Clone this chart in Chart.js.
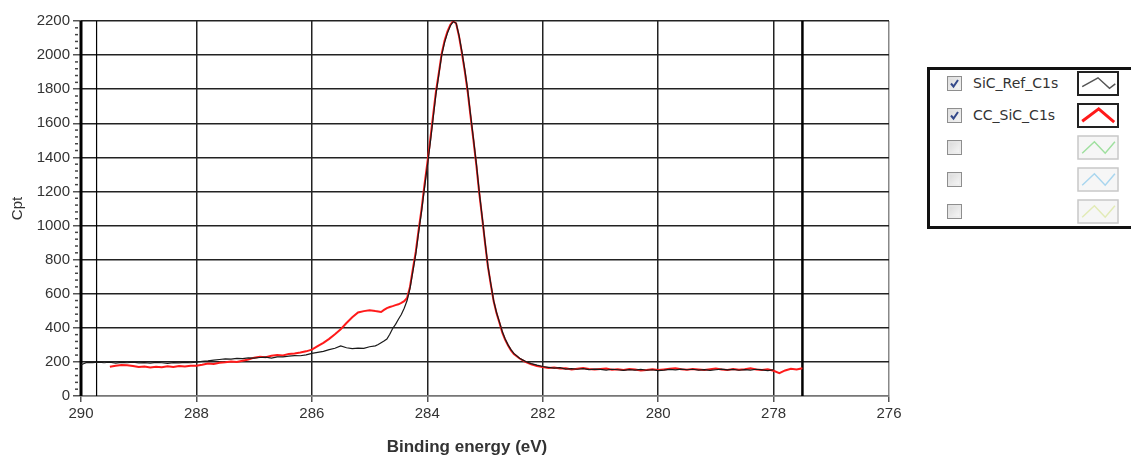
<!DOCTYPE html>
<html><head><meta charset="utf-8">
<script src="https://cdn.jsdelivr.net/npm/chart.js@4.4.0/dist/chart.umd.min.js"></script>
<style>
html,body{margin:0;padding:0;background:#fff;}
#wrap{position:relative;width:1131px;height:461px;overflow:hidden;background:#fff;}
#c{position:absolute;left:0;top:0;}
#xtitle{position:absolute;left:467px;top:447px;font:bold 17px "Liberation Sans",Arial,sans-serif;color:#333;white-space:nowrap;transform:translate(-50%,-50%);}
#legend{position:absolute;left:927px;top:67px;width:215px;height:162px;border:3px solid #111;box-sizing:border-box;background:#fff;}
.lg-item{position:absolute;}
.lg-text{position:absolute;font:14px "DejaVu Sans",Verdana,sans-serif;color:#333;white-space:nowrap;transform:translateY(-50%);}
</style></head>
<body>
<div id="wrap">
<canvas id="c" width="1131" height="461"></canvas>
<div id="xtitle">Binding energy (eV)</div>
<div id="legend"></div>
</div>
<script>
// ---------- data ----------
const xTicks = [290, 288, 286, 284, 282, 280, 278, 276];
const yTicks = [0, 200, 400, 600, 800, 1000, 1200, 1400, 1600, 1800, 2000, 2200];
const cursorEnergies = [290, 289.73, 277.5];

const seriesNames = ['SiC_Ref_C1s', 'CC_SiC_C1s'];

const refEnergy = [
 290.0,289.9,289.8,289.7,289.6,289.5,289.4,289.3,289.2,289.1,
 289.0,288.9,288.8,288.7,288.6,288.5,288.4,288.3,288.2,288.1,
 288.0,287.9,287.8,287.7,287.6,287.5,287.4,287.3,287.2,287.1,
 287.0,286.9,286.8,286.7,286.6,286.5,286.4,286.3,286.2,286.1,
 286.0,285.9,285.8,285.7,285.6,285.5,285.4,285.3,285.2,285.1,
 285.0,284.9,
 284.85,284.8,284.75,284.7,284.65,284.6,284.55,284.5,284.45,284.4,
 284.35,284.3,284.25,284.2,284.15,284.1,284.05,284.0,283.95,283.9,
 283.85,283.8,283.75,283.7,283.65,283.6,283.55,283.5,283.45,283.4,
 283.35,283.3,283.25,283.2,283.15,283.1,283.05,283.0,282.95,282.9,
 282.85,282.8,282.75,282.7,282.65,282.6,282.55,
 282.5,282.4,282.3,282.2,282.1,282.0,281.9,281.8,281.7,281.6,
 281.5,281.4,281.3,281.2,281.1,281.0,280.9,280.8,280.7,280.6,
 280.5,280.4,280.3,280.2,280.1,280.0,279.9,279.8,279.7,279.6,
 279.5,279.4,279.3,279.2,279.1,279.0,278.9,278.8,278.7,278.6,
 278.5,278.4,278.3,278.2,278.1,278.0
];
const refCounts = [
 183,197,196,199,195,198,193,197,195,199,
 194,196,193,197,195,192,196,194,197,195,
 198,203,206,210,214,218,216,221,219,224,
 222,226,228,222,230,229,234,237,236,241,
 250,256,262,272,280,294,283,278,281,280,
 289,294,
 302,312,322,334,362,396,420,450,478,515,
 560,630,730,830,960,1080,1215,1345,1480,1625,
 1770,1885,2000,2075,2130,2172,2196,2188,2115,2020,
 1915,1796,1650,1510,1365,1200,1055,908,765,660,
 560,490,435,378,335,300,272,
 250,222,203,190,181,173,168,163,166,158,
 161,157,160,155,158,156,152,157,154,150,
 155,152,156,151,154,149,152,156,153,158,
 154,157,152,155,150,154,158,153,156,151,
 155,152,157,153,149,154
];

const ccEnergy = [
 289.5,289.4,289.3,289.2,289.1,
 289.0,288.9,288.8,288.7,288.6,288.5,288.4,288.3,288.2,288.1,
 288.0,287.9,287.8,287.7,287.6,287.5,287.4,287.3,287.2,287.1,
 287.0,286.9,286.8,286.7,286.6,286.5,286.4,286.3,286.2,286.1,
 286.0,285.9,285.8,285.7,285.6,285.5,285.4,285.3,285.2,285.1,
 285.0,284.9,
 284.85,284.8,284.75,284.7,284.65,284.6,284.55,284.5,284.45,284.4,
 284.35,284.3,284.25,284.2,284.15,284.1,284.05,284.0,283.95,283.9,
 283.85,283.8,283.75,283.7,283.65,283.6,283.55,283.5,283.45,283.4,
 283.35,283.3,283.25,283.2,283.15,283.1,283.05,283.0,282.95,282.9,
 282.85,282.8,282.75,282.7,282.65,282.6,282.55,
 282.5,282.4,282.3,282.2,282.1,282.0,281.9,281.8,281.7,281.6,
 281.5,281.4,281.3,281.2,281.1,281.0,280.9,280.8,280.7,280.6,
 280.5,280.4,280.3,280.2,280.1,280.0,279.9,279.8,279.7,279.6,
 279.5,279.4,279.3,279.2,279.1,279.0,278.9,278.8,278.7,278.6,
 278.5,278.4,278.3,278.2,278.1,278.0,277.9,277.8,277.7,277.6,
 277.5
];
const ccCounts = [
 172,178,182,180,176,
 170,173,167,171,169,174,170,176,173,178,
 177,183,190,188,195,198,203,200,207,214,
 225,230,228,236,240,238,247,250,255,262,
 272,292,312,335,362,392,428,462,490,498,
 503,498,
 496,493,505,516,522,527,533,538,546,556,
 575,640,745,845,975,1095,1235,1365,1500,1645,
 1785,1895,2010,2085,2140,2178,2200,2185,2110,2012,
 1905,1785,1640,1500,1355,1192,1048,900,760,655,
 556,486,430,372,330,296,268,
 246,220,200,186,176,170,164,167,161,163,
 156,160,164,158,155,159,161,154,157,153,
 158,155,150,153,157,152,156,160,163,157,
 154,159,156,152,157,161,155,152,158,154,
 157,162,156,153,157,148,134,150,160,156,
 163
];

// ---------- chart ----------
function pts(xs, ys){ const n=Math.min(xs.length, ys.length); const o=[]; for(let i=0;i<n;i++) o.push({x:xs[i], y:ys[i]}); return o; }

const FONT = '"Liberation Sans", Arial, sans-serif';

const decorPlugin = {
  id: 'decor',
  beforeDatasetsDraw(chart){
    const {ctx, chartArea:a, scales:{x, y}} = chart;
    ctx.save();
    const widths = [3, 1.2, 2.5];
    cursorEnergies.forEach((e, i) => {
      const px = x.getPixelForValue(e);
      ctx.beginPath();
      ctx.lineWidth = widths[i];
      ctx.strokeStyle = '#000';
      ctx.moveTo(px, a.top);
      ctx.lineTo(px, a.bottom);
      ctx.stroke();
    });
    // minor ticks on y axis
    ctx.strokeStyle = '#444';
    ctx.lineWidth = 1.5;
    for (let k = 0; k < yTicks.length - 1; k++) {
      const v0 = yTicks[k], v1 = yTicks[k+1];
      for (let m = 1; m < 5; m++) {
        const py = y.getPixelForValue(v0 + (v1 - v0) * m / 5);
        ctx.beginPath();
        ctx.moveTo(a.left - 6, py);
        ctx.lineTo(a.left - 3, py);
        ctx.stroke();
      }
    }
    ctx.restore();
  }
};

new Chart(document.getElementById('c'), {
  type: 'line',
  data: {
    datasets: [
      { label: seriesNames[0], data: pts(refEnergy, refCounts), borderColor: '#1a1a1a', borderWidth: 1.2, pointRadius: 0, tension: 0, fill: false, order: 0 },
      { label: seriesNames[1], data: pts(ccEnergy, ccCounts), borderColor: '#ff1a1a', borderWidth: 2, pointRadius: 0, tension: 0, fill: false, order: 1 }
    ]
  },
  options: {
    responsive: false,
    animation: false,
    devicePixelRatio: 1,
    layout: { padding: { left: 0, right: 242, top: 21, bottom: 0 } },
    plugins: { legend: { display: false }, tooltip: { enabled: false } },
    scales: {
      x: {
        type: 'linear', reverse: true, min: 276, max: 290,
        afterBuildTicks: s => { s.ticks = xTicks.map(v => ({value: v})); },
        afterFit: s => { s.height = 65; },
        ticks: { font: { family: FONT, size: 15 }, color: '#333', padding: 3, maxRotation: 0, autoSkip: false, callback: v => String(v) },
        grid: {
          color: c => (c.tick && c.tick.value === 276) ? '#888' : '#222',
          tickColor: '#555', lineWidth: 1.5, tickLength: 6
        },
        border: { display: true, color: '#777', width: 1.5 }
      },
      y: {
        min: 0, max: 2200,
        afterBuildTicks: s => { s.ticks = yTicks.map(v => ({value: v})); },
        afterFit: s => { s.width = 81; },
        ticks: { font: { family: FONT, size: 15 }, color: '#333', padding: 3, autoSkip: false, callback: v => String(v) },
        grid: {
          color: c => (c.tick && c.tick.value === 0) ? '#777' : '#222',
          tickColor: '#555', lineWidth: 1.5, tickLength: 8
        },
        border: { display: false },
        title: { display: true, text: 'Cpt', font: { family: FONT, size: 15 }, color: '#333', padding: { top: 9, bottom: 0 } }
      }
    }
  },
  plugins: [decorPlugin]
});

// ---------- legend (HTML) ----------
const legendEntries = [
  { name: seriesNames[0], checked: true,  active: true,  color: '#555', w: 1.5, path: [[0.06,0.67],[0.5,0.2],[0.82,0.75],[0.98,0.52]] },
  { name: seriesNames[1], checked: true,  active: true,  color: '#ff1a1a', w: 3, path: [[0.06,0.8],[0.52,0.15],[0.95,0.85]] },
  { name: '', checked: false, active: false, color: '#9fe09f', w: 1.5, path: [[0.06,0.8],[0.4,0.2],[0.7,0.8],[0.97,0.2]] },
  { name: '', checked: false, active: false, color: '#a9d6ef', w: 1.5, path: [[0.06,0.8],[0.4,0.2],[0.7,0.8],[0.97,0.2]] },
  { name: '', checked: false, active: false, color: '#e2ebb6', w: 1.5, path: [[0.06,0.8],[0.4,0.2],[0.7,0.8],[0.97,0.2]] }
];
const lg = document.getElementById('legend');
legendEntries.forEach((e, i) => {
  const cy = 13 + 32 * i;
  const cb = document.createElement('div');
  cb.className = 'lg-item';
  cb.style.left = '17px'; cb.style.top = (cy - 7) + 'px';
  cb.innerHTML = '<svg width="15" height="15"><defs><linearGradient id="g'+i+'" x1="0" y1="0" x2="1" y2="1"><stop offset="0" stop-color="#d6d6d6"/><stop offset="1" stop-color="#fafafa"/></linearGradient></defs>'
    + '<rect x="0.5" y="0.5" width="14" height="14" fill="url(#g'+i+')" stroke="#8e8e8e"/>'
    + '<rect x="2" y="2" width="11" height="11" fill="none" stroke="#e8e8e8"/>'
    + (e.checked ? '<path d="M4 7.5 L6.5 10.5 L11 4" fill="none" stroke="#34498a" stroke-width="2"/>' : '')
    + '</svg>';
  lg.appendChild(cb);
  if (e.name) {
    const t = document.createElement('div');
    t.className = 'lg-text';
    t.style.left = '43px'; t.style.top = cy + 'px';
    t.textContent = e.name;
    lg.appendChild(t);
  }
  const W = 42, H = 25;
  const sw = document.createElement('div');
  sw.className = 'lg-item';
  sw.style.left = '147px'; sw.style.top = (cy - 12) + 'px';
  const p = e.path.map(q => (3 + q[0] * (W - 6)).toFixed(1) + ',' + (3 + q[1] * (H - 6)).toFixed(1)).join(' ');
  sw.innerHTML = '<svg width="'+W+'" height="'+H+'">'
    + '<rect x="1" y="1" width="'+(W-2)+'" height="'+(H-2)+'" fill="'+(e.active?'#fff':'#f6f6f6')+'" stroke="'+(e.active?'#222':'#c8c8c8')+'" stroke-width="'+(e.active?2:1.5)+'"/>'
    + '<polyline points="'+p+'" fill="none" stroke="'+e.color+'" stroke-width="'+e.w+'"/>'
    + '</svg>';
  lg.appendChild(sw);
});
</script>
</body></html>
